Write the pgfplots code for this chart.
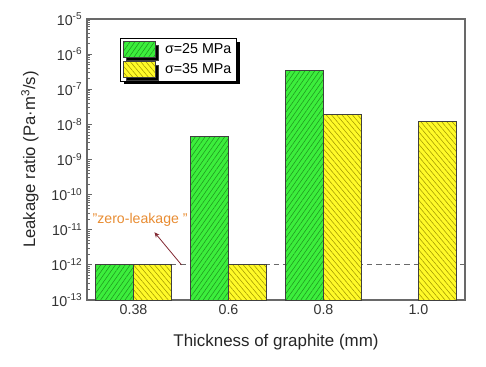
\documentclass[border=0pt]{standalone}
\usepackage{pgfplots}
\pgfplotsset{compat=1.18}
\usepackage{fontspec}
\setmainfont{Liberation Sans}
\usetikzlibrary{patterns.meta,shadows,arrows.meta}
\definecolor{barG}{RGB}{60,238,60}
\definecolor{hatchG}{RGB}{30,150,30}
\definecolor{barY}{RGB}{255,250,40}
\definecolor{hatchY}{RGB}{160,150,0}
\definecolor{axgray}{RGB}{105,105,105}
\definecolor{zlorange}{RGB}{232,140,50}
\definecolor{arrowred}{RGB}{130,40,50}
\begin{document}
\begin{tikzpicture}
\begin{axis}[
  scale only axis,
  width=283.5pt, height=210.75pt,
  ymode=log, log origin y=infty,
  ymin=1e-13, ymax=1e-5,
  xmin=-0.49, xmax=3.49,
  xtick={0,1,2,3},
  xticklabels={0.38,0.6,0.8,1.0},
  ytick={1e-13,1e-12,1e-11,1e-10,1e-9,1e-8,1e-7,1e-6,1e-5},
  yticklabels={10\textsuperscript{-13},10\textsuperscript{-12},10\textsuperscript{-11},10\textsuperscript{-10},10\textsuperscript{-9},10\textsuperscript{-8},10\textsuperscript{-7},10\textsuperscript{-6},10\textsuperscript{-5}},
  xtick pos=bottom, ytick pos=left,
  tick align=inside,
  major tick length=4pt, minor tick length=2pt,
  axis line style={axgray, line width=0.9pt},
  every tick/.style={axgray, line width=0.6pt},
  tick label style={font=\fontsize{10.7}{12}\selectfont, text=black!80},
  xlabel={Thickness of graphite (mm)},
  ylabel={Leakage ratio (Pa·m\textsuperscript{3}/s)},
  every axis x label/.style={at={(axis description cs:0.5,-0.149)},anchor=center,font=\fontsize{12.7}{14}\selectfont, text=black!85},
  every axis y label/.style={at={(axis description cs:-0.151,0.5)},rotate=90,anchor=center,font=\fontsize{12.5}{14}\selectfont, text=black!85},
  bar width=0.4,
  legend style={at={(0.087,0.932)}, anchor=north west, draw=black, line width=0.6pt, fill=white,
    font=\fontsize{10.7}{12}\selectfont,
    drop shadow={shadow xshift=2.5pt, shadow yshift=-2.5pt, fill=black, opacity=1},
    inner sep=2pt, row sep=2pt,
    /tikz/every odd column/.append style={column sep=5pt}},
  legend cell align=left,
  legend image code/.code={\draw[#1] (0pt,-5.5pt) rectangle (24pt,6pt);},
]
\addplot[forget plot, axgray, line width=0.7pt, dash pattern=on 4pt off 3pt] coordinates {(-0.49,1e-12) (3.49,1e-12)};
\addplot[ybar, bar shift=-0.2, fill=barG, draw=black!75, line width=0.6pt,
  postaction={pattern={Lines[angle=55,distance=3pt,line width=0.4pt]}, pattern color=hatchG}]
  coordinates {(0,1e-12) (1,4.6e-9) (2,3.5e-7)};
\addlegendentry{σ=25 MPa}
\addplot[ybar, bar shift=0.2, fill=barY, draw=black!75, line width=0.6pt,
  postaction={pattern={Lines[angle=-50,distance=3pt,line width=0.4pt]}, pattern color=hatchY}]
  coordinates {(0,1e-12) (1,1e-12) (2,1.9e-8) (3,1.2e-8)};
\addlegendentry{σ=35 MPa}
\node[text=zlorange, font=\fontsize{10.6}{12}\selectfont] at (axis cs:0.07,1.86e-11) {"zero-leakage "};
\draw[arrowred, line width=0.6pt, -{Stealth[length=4pt,width=3.5pt]}] (axis cs:0.505,1e-12) -- (axis cs:0.22,8.5e-12);
\end{axis}
\pgfresetboundingbox
\useasboundingbox (-65.25pt,-50.25pt) rectangle (299.25pt,225pt);
\end{tikzpicture}
\end{document}
